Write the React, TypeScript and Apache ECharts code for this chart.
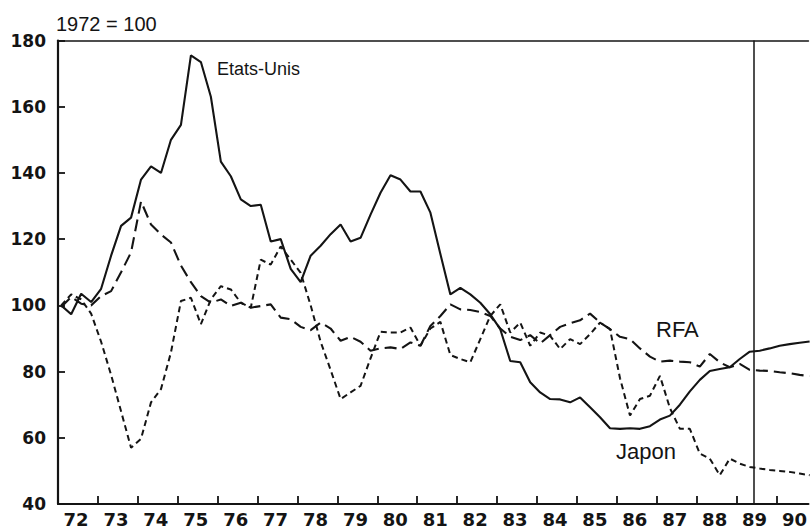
import React, { useEffect, useRef } from "react";
import * as echarts from "echarts";

// Quarterly indices, 1972 = 100 (first quarter plotted just after the start of 1972)
const START = 1972.08;
const STEP = 0.25;

const etatsUnis = [
  100, 97.3, 103.5, 101, 105, 115, 124, 126.5, 138, 142,
  140, 150, 154.5, 175.5, 173.5, 163, 143.4, 139, 132, 130,
  130.4, 119.3, 120, 111, 107, 115, 118, 121.5, 124.4, 119.3,
  120.4, 127.4, 134, 139.3, 138, 134.4, 134.4, 128, 115.5, 103.3,
  105.3, 103.3, 100.8, 97.3, 92.8, 83.2, 82.8, 76.8, 73.7, 71.7,
  71.6, 70.7, 72.2, 69.2, 66.2, 62.9, 62.7, 62.9, 62.7, 63.5,
  65.5, 66.7, 70, 74, 77.5, 80.2, 80.8, 81.3, 83.8, 86,
  86.3, 87, 87.8, 88.3, 88.7, 89.1,
];

const rfa = [
  99.5, 102.5, 100.5, 100, 102.8, 104.3, 110, 116, 131.4, 124.4,
  121.4, 119, 112, 107, 102.8, 100.8, 101.8, 99.8, 100.8, 99.3,
  99.8, 100.3, 96.3, 95.8, 93.5, 92.5, 94.8, 93, 89.3, 90.5,
  89, 86.3, 87, 87.3, 86.8, 88.8, 87.8, 93.8, 96.8, 100.3,
  98.8, 98.6, 98, 96.8, 93, 90.5, 89.5, 91, 88.5, 91,
  93.5, 94.6, 95.5, 97.5, 94.8, 92.8, 90.5, 89.8, 87, 84.5,
  83, 83.3, 83, 82.8, 81.5, 85.3, 82.8, 81.3, 82.3, 80.5,
  80.3, 80.2, 79.8, 79.5, 79, 78.6,
];

const japon = [
  100, 103.3, 101.8, 97.5, 89, 79, 68, 57, 59.7, 70.7,
  74.7, 85.8, 101.3, 102.3, 94.3, 101.8, 105.8, 104.8, 100.8, 99.3,
  113.8, 112.3, 117.8, 113.8, 109.8, 100, 89, 80.5, 71.7, 73.7,
  75.7, 84, 92, 91.8, 91.8, 93.3, 87.8, 93, 95, 85,
  83.8, 82.8, 89.8, 96.8, 100.3, 91.8, 94.8, 87.8, 91.8, 90.8,
  86.8, 89.8, 88.3, 91.3, 94.8, 92.8, 78, 66.7, 71.7, 72.7,
  78.7, 69, 62.7, 62.7, 55.2, 53.7, 48.7, 53.7, 52.2, 51.2,
  50.7, 50.3, 50, 49.7, 49.2, 48.7,
];

const yearLabels = [
  "72", "73", "74", "75", "76", "77", "78", "79", "80", "81",
  "82", "83", "84", "85", "86", "87", "88", "89", "90",
];

const FIRST_YEAR = 1972;
const VISIBLE_END = 1990.8;
const FORECAST_LINE = 1989.43;

const INK = "#141414";

function toPairs(values: number[]) {
  return values.map((v, i) => [START + i * STEP, v]);
}

export default function App() {
  const ref = useRef<HTMLDivElement>(null);

  useEffect(() => {
    if (!ref.current) return;
    const chart = echarts.init(ref.current, undefined, { renderer: "svg" });
    const tickFont = {
      color: INK,
      fontFamily: "DejaVu Sans",
      fontWeight: "bold" as const,
    };
    const labelFont = "Liberation Sans, Arial, Helvetica, sans-serif";

    chart.setOption({
      animation: false,
      backgroundColor: "#ffffff",
      grid: { left: 58, right: 0, top: 40.5, bottom: 25 },
      xAxis: [
        {
          type: "value",
          min: FIRST_YEAR,
          max: VISIBLE_END,
          interval: 1,
          position: "bottom",
          axisLine: { show: true, onZero: false, lineStyle: { color: INK, width: 2.2 } },
          axisTick: { show: true, inside: true, length: 8, lineStyle: { color: INK, width: 1.8 } },
          axisLabel: {
            ...tickFont,
            fontSize: 18,
            margin: 6,
            padding: [0, 0, 0, 36],
            showMaxLabel: false,
            formatter: (v: number) =>
              Number.isInteger(v) ? yearLabels[v - FIRST_YEAR] ?? "" : "",
          },
          splitLine: { show: false },
        },
        {
          type: "value",
          min: FIRST_YEAR,
          max: VISIBLE_END,
          position: "top",
          axisLine: { show: true, onZero: false, lineStyle: { color: INK, width: 1.6 } },
          axisTick: { show: false },
          axisLabel: { show: false },
          splitLine: { show: false },
        },
      ],
      yAxis: {
        type: "value",
        min: 40,
        max: 180,
        interval: 20,
        axisLine: { show: true, onZero: false, lineStyle: { color: INK, width: 2.2 } },
        axisTick: { show: true, inside: true, length: 7, lineStyle: { color: INK, width: 1.8 } },
        axisLabel: { ...tickFont, fontSize: 17, margin: 12 },
        splitLine: { show: false },
      },
      series: [
        {
          name: "Etats-Unis",
          type: "line",
          xAxisIndex: 0,
          data: toPairs(etatsUnis),
          showSymbol: false,
          lineStyle: { color: INK, width: 2.1, type: "solid" },
          markLine: {
            silent: true,
            symbol: "none",
            label: { show: false },
            lineStyle: { color: INK, width: 1.5, type: "solid" },
            data: [{ xAxis: FORECAST_LINE }],
          },
        },
        {
          name: "RFA",
          type: "line",
          xAxisIndex: 0,
          data: toPairs(rfa),
          showSymbol: false,
          lineStyle: { color: INK, width: 2.1, type: [12, 6] },
        },
        {
          name: "Japon",
          type: "line",
          xAxisIndex: 0,
          data: toPairs(japon),
          showSymbol: false,
          lineStyle: { color: INK, width: 2, type: [6, 4] },
        },
      ],
      graphic: [
        {
          type: "text",
          left: 56,
          top: 14,
          style: { text: "1972 = 100", font: `20px ${labelFont}`, fill: INK },
        },
        {
          type: "text",
          left: 217,
          top: 60,
          style: { text: "Etats-Unis", font: `18px ${labelFont}`, fill: INK },
        },
        {
          type: "text",
          left: 656,
          top: 318,
          style: { text: "RFA", font: `22px ${labelFont}`, fill: INK },
        },
        {
          type: "text",
          left: 616,
          top: 440,
          style: { text: "Japon", font: `22px ${labelFont}`, fill: INK },
        },
      ],
    });
    return () => chart.dispose();
  }, []);

  return (
    <div
      ref={ref}
      style={{ position: "fixed", left: 0, top: 0, width: 810, height: 529, background: "#fff" }}
    />
  );
}
